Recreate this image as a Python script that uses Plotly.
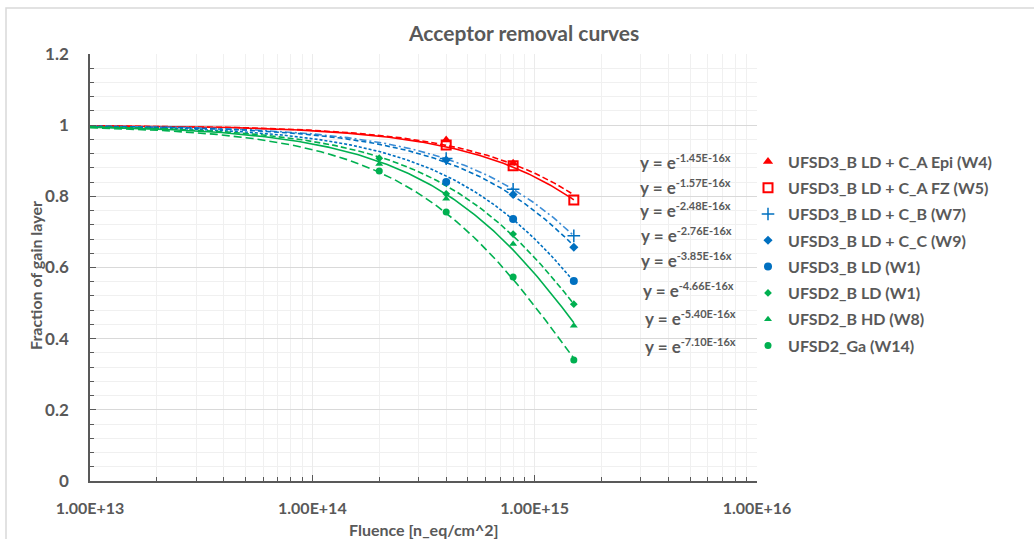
import numpy as np
import plotly.graph_objects as go

# ---------------- data ----------------
series_names = [
    "UFSD3_B LD + C_A Epi (W4)",
    "UFSD3_B LD + C_A FZ (W5)",
    "UFSD3_B LD + C_B (W7)",
    "UFSD3_B LD + C_C (W9)",
    "UFSD3_B LD (W1)",
    "UFSD2_B LD (W1)",
    "UFSD2_B HD (W8)",
    "UFSD2_Ga (W14)",
]
fluence_w4 = [4e14, 8e14]
frac_w4 = [0.958, 0.893]
fluence_w5 = [4e14, 8e14, 1.5e15]
frac_w5 = [0.944, 0.886, 0.790]
fluence_w7 = [4e14, 8e14, 1.5e15]
frac_w7 = [0.906, 0.820, 0.689]
fluence_w9 = [4e14, 8e14, 1.5e15]
frac_w9 = [0.902, 0.805, 0.657]
fluence_u3w1 = [4e14, 8e14, 1.5e15]
frac_u3w1 = [0.840, 0.736, 0.562]
fluence_u2w1 = [2e14, 4e14, 8e14, 1.5e15]
frac_u2w1 = [0.907, 0.807, 0.694, 0.497]
fluence_w8 = [2e14, 4e14, 8e14, 1.5e15]
frac_w8 = [0.891, 0.793, 0.666, 0.436]
fluence_w14 = [2e14, 4e14, 8e14, 1.5e15]
frac_w14 = [0.871, 0.756, 0.573, 0.340]

# trendline coefficients shown on the chart: y = exp(-c * x)
fit_coef = [1.45e-16, 1.57e-16, 2.48e-16, 2.76e-16, 3.85e-16, 4.66e-16, 5.40e-16, 7.10e-16]
fit_labels = ["-1.45E-16x", "-1.57E-16x", "-2.48E-16x", "-2.76E-16x",
              "-3.85E-16x", "-4.66E-16x", "-5.40E-16x", "-7.10E-16x"]
fit_range = [1e13, 1.5e15]

x_major_ticks = [1e13, 1e14, 1e15, 1e16]
x_major_text = ["1.00E+13", "1.00E+14", "1.00E+15", "1.00E+16"]

# ---------------- styles ----------------
RED = "#FF0000"
BLUE = "#0070C0"
LBLUE = "#3C8DD6"
GREEN = "#00B050"
GRAY = "#595959"
FONT = "Lato"

xs_list = [fluence_w4, fluence_w5, fluence_w7, fluence_w9, fluence_u3w1, fluence_u2w1, fluence_w8, fluence_w14]
ys_list = [frac_w4, frac_w5, frac_w7, frac_w9, frac_u3w1, frac_u2w1, frac_w8, frac_w14]
line_colors = [RED, RED, LBLUE, BLUE, BLUE, GREEN, GREEN, GREEN]
markers = [
    dict(symbol="triangle-up", size=9, color=RED),
    dict(symbol="square-open", size=9, color=RED, line=dict(width=2, color=RED)),
    dict(symbol="cross-thin", size=9, color=BLUE, line=dict(width=1.5, color=BLUE)),
    dict(symbol="diamond", size=7, color=BLUE),
    dict(symbol="circle", size=8, color=BLUE),
    dict(symbol="diamond", size=6, color=GREEN),
    dict(symbol="triangle-up", size=7, color=GREEN),
    dict(symbol="circle", size=7, color=GREEN),
]
dashes = ["6px,3px", "solid", "7px,3px,2px,3px", "5px,3px", "3px,2px", "6px,3px", "solid", "8px,4px"]

fig = go.Figure()

xfit = np.logspace(np.log10(fit_range[0]), np.log10(fit_range[1]), 200)
for i in range(len(series_names)):
    fig.add_trace(go.Scatter(
        x=xfit, y=np.exp(-fit_coef[i] * xfit), mode="lines",
        line=dict(color=line_colors[i], width=1.6, dash=dashes[i]),
        showlegend=False, hoverinfo="skip",
    ))

for i in range(len(series_names)):
    fig.add_trace(go.Scatter(
        x=xs_list[i], y=ys_list[i], mode="markers", name=series_names[i],
        marker=markers[i], legendgroup=f"g{i}",
    ))

# ---------------- layout helpers (pixel -> paper) ----------------
PL, PR, PT, PB = 90, 757, 54, 481
def px(x):
    return (x - PL) / (PR - PL)
def py(y):
    return (PB - y) / (PB - PT)

minor_vals = [m * 10 ** e for e in range(13, 16) for m in range(2, 10)]

annotations = []
eq_right = [733, 733, 733, 734, 734, 736, 738, 738]
eq_mid = [162.5, 186.5, 210.5, 234.5, 260, 289.5, 317.5, 345.5]
for i, lab in enumerate(fit_labels):
    annotations.append(dict(
        xref="paper", yref="paper", x=px(eq_right[i]), y=py(eq_mid[i]),
        xanchor="right", yanchor="middle", showarrow=False,
        text=f"y = e<sup><span style='font-size:11px'>{lab}</span></sup>",
        font=dict(family=FONT, size=17, color=GRAY, weight="bold"),
    ))

annotations += [
    dict(xref="paper", yref="paper", x=px(523), y=py(33), xanchor="center", yanchor="middle",
         showarrow=False, text="Acceptor removal curves",
         font=dict(family=FONT, size=21, color=GRAY, weight="bold")),
    dict(xref="paper", yref="paper", x=px(35), y=py(276), xanchor="center", yanchor="middle",
         showarrow=False, text="Fraction of gain layer", textangle=-90,
         font=dict(family=FONT, size=16, color=GRAY, weight="bold")),
    dict(xref="paper", yref="paper", x=px(424), y=py(529), xanchor="center", yanchor="middle",
         showarrow=False, text="Fluence [n_eq/cm^2]",
         font=dict(family=FONT, size=16, color=GRAY, weight="bold")),
]

fig.update_layout(
    width=1034, height=539,
    margin=dict(l=PL, r=1034 - PR, t=PT, b=539 - PB, pad=0),
    paper_bgcolor="white", plot_bgcolor="white",
    showlegend=True,
    legend=dict(
        x=px(748), y=py(144.5), xanchor="left", yanchor="top",
        font=dict(family=FONT, size=16, color=GRAY, weight="bold"),
        tracegroupgap=2.5, traceorder="grouped", bgcolor="rgba(0,0,0,0)",
    ),
    annotations=annotations,
    shapes=[dict(type="rect", xref="paper", yref="paper",
                 x0=px(6), x1=px(1040), y0=py(545), y1=py(8),
                 line=dict(color="#D9D9D9", width=1.5), layer="below")],
    xaxis=dict(
        type="log", range=[13, 16],
        tickmode="array", tickvals=x_major_ticks, ticktext=x_major_text,
        ticks="inside", ticklen=6, tickcolor=GRAY, tickwidth=1,
        showline=True, linecolor=GRAY, linewidth=1.5,
        showgrid=True, gridcolor="#EBEBEB", gridwidth=1,
        tickfont=dict(family=FONT, size=16, color=GRAY, weight="bold"),
        ticklabelstandoff=12,
        minor=dict(tickmode="array", tickvals=minor_vals, ticks="inside", ticklen=4,
                   tickcolor=GRAY, showgrid=True, gridcolor="#F0F0F0", gridwidth=1),
        zeroline=False,
    ),
    yaxis=dict(
        range=[0, 1.2], dtick=0.2, tick0=0,
        ticks="inside", ticklen=6, tickcolor=GRAY, tickwidth=1,
        showline=True, linecolor=GRAY, linewidth=1.5,
        showgrid=True, gridcolor="#D9D9D9", gridwidth=1.2,
        tickfont=dict(family=FONT, size=17, color=GRAY, weight="bold"),
        ticklabelstandoff=16,
        minor=dict(dtick=0.04, ticks="inside", ticklen=4, tickcolor=GRAY,
                   showgrid=True, gridcolor="#F0F0F0", gridwidth=1),
        zeroline=False,
    ),
)

fig.write_html("out.html")
